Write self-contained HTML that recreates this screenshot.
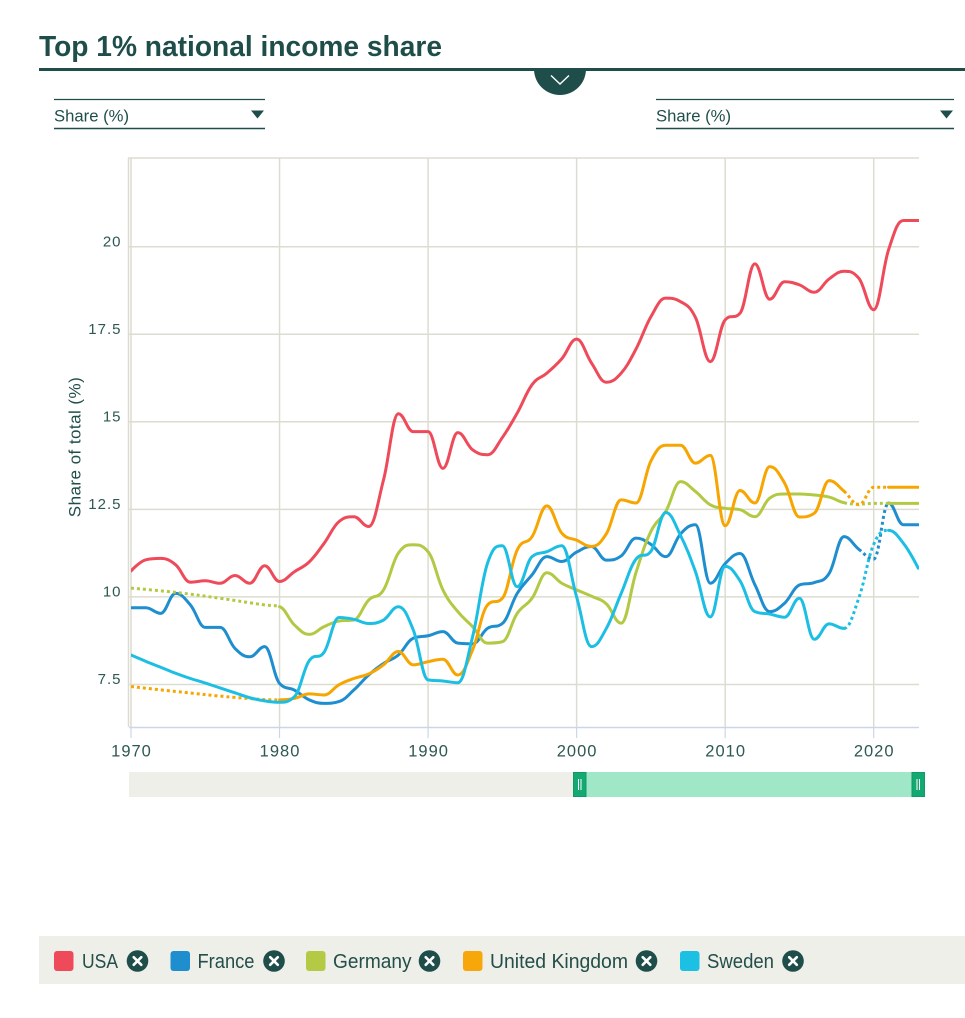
<!DOCTYPE html>
<html>
<head>
<meta charset="utf-8">
<style>
  html,body{margin:0;padding:0;background:#fff;}
  body{width:965px;height:1018px;overflow:hidden;}
  svg{display:block;font-family:"Liberation Sans",Arial,sans-serif;}
</style>
</head>
<body>
<svg id="root" width="965" height="1018" viewBox="0 0 965 1018" xmlns="http://www.w3.org/2000/svg">
  <defs>
    <clipPath id="plotclip"><rect x="131" y="150" width="788" height="585"/></clipPath>
  </defs>
  <!-- Title -->
  <text x="39" y="56" font-size="29" font-weight="700" fill="#1f4e4a" textLength="403" lengthAdjust="spacingAndGlyphs">Top 1% national income share</text>
  <rect x="39" y="68" width="926" height="3" fill="#1f4e4a"/>
  <path d="M534,69 A26,26 0 0 0 586,69 Z" fill="#1f4e4a"/>
  <polyline points="551,75.5 560,84 569,75.5" fill="none" stroke="#ffffff" stroke-width="1.4"/>

  <!-- Dropdowns -->
  <line x1="54" y1="99.5" x2="265" y2="99.5" stroke="#1f4e4a" stroke-width="1.3"/>
  <line x1="54" y1="128.5" x2="265" y2="128.5" stroke="#1f4e4a" stroke-width="1.6"/>
  <text x="54" y="121.5" font-size="17" fill="#1f4e4a" textLength="75" lengthAdjust="spacingAndGlyphs">Share (%)</text>
  <polygon points="251,110.5 264,110.5 257.5,118.5" fill="#1f4e4a"/>

  <line x1="656" y1="99.5" x2="954" y2="99.5" stroke="#1f4e4a" stroke-width="1.3"/>
  <line x1="656" y1="128.5" x2="954" y2="128.5" stroke="#1f4e4a" stroke-width="1.6"/>
  <text x="656" y="121.5" font-size="17" fill="#1f4e4a" textLength="75" lengthAdjust="spacingAndGlyphs">Share (%)</text>
  <polygon points="940,110.5 953,110.5 946.5,118.5" fill="#1f4e4a"/>

  <!-- Grid -->
  <g id="grid" stroke="#dddcd0" stroke-width="1.5" fill="none">
    <line x1="128" y1="158" x2="919" y2="158"/>
    <line x1="128.5" y1="158" x2="128.5" y2="727"/>
  </g>
  <g id="ylabels" font-size="15" fill="#2d5853" text-anchor="end" letter-spacing="1"></g>
  <text transform="translate(80.5,447) rotate(-90)" text-anchor="middle" font-size="17" fill="#1f4e4a" letter-spacing="0.45">Share of total (%)</text>

  <!-- x axis -->
  <line x1="129" y1="727.5" x2="919" y2="727.5" stroke="#ccd6eb" stroke-width="1.5"/>
  <g id="xaxis"></g>

  <!-- Series -->
  <g id="series" clip-path="url(#plotclip)" fill="none" stroke-width="3"></g>

  <!-- Navigator -->
  <rect x="129" y="772" width="790" height="25" fill="#efefea"/>
  <rect x="580" y="772" width="339" height="25" fill="#9fe7c7"/>
  <rect x="573.5" y="772.5" width="12.5" height="24" fill="#14a873" stroke="#0f9a66" stroke-width="1"/>
  <line x1="578.5" y1="779" x2="578.5" y2="790" stroke="#ffffff" stroke-width="1"/>
  <line x1="581" y1="779" x2="581" y2="790" stroke="#ffffff" stroke-width="1"/>
  <rect x="912" y="772.5" width="12.5" height="24" fill="#14a873" stroke="#0f9a66" stroke-width="1"/>
  <line x1="917" y1="779" x2="917" y2="790" stroke="#ffffff" stroke-width="1"/>
  <line x1="919.5" y1="779" x2="919.5" y2="790" stroke="#ffffff" stroke-width="1"/>

  <!-- Legend -->
  <rect x="39" y="936" width="926" height="48" fill="#efefe9"/>
  <g font-size="20" fill="#234e49">
    <rect x="54" y="951" width="19.5" height="20" rx="3" fill="#ef4a5a"/>
    <text x="82" y="968" textLength="36" lengthAdjust="spacingAndGlyphs">USA</text>
    <rect x="170.5" y="951" width="19.5" height="20" rx="3" fill="#1e8ecf"/>
    <text x="197.5" y="968" textLength="57" lengthAdjust="spacingAndGlyphs">France</text>
    <rect x="306" y="951" width="19.5" height="20" rx="3" fill="#b4ca45"/>
    <text x="333" y="968" textLength="78.5" lengthAdjust="spacingAndGlyphs">Germany</text>
    <rect x="463" y="951" width="19.5" height="20" rx="3" fill="#f7a709"/>
    <text x="490" y="968" textLength="138" lengthAdjust="spacingAndGlyphs">United Kingdom</text>
    <rect x="680" y="951" width="19.5" height="20" rx="3" fill="#1cc0e3"/>
    <text x="707" y="968" textLength="67" lengthAdjust="spacingAndGlyphs">Sweden</text>
  </g>
  <g id="closers"></g>
</svg>
<script>
(function(){
  var NS="http://www.w3.org/2000/svg";
  function el(tag,attrs,parent,text){
    var e=document.createElementNS(NS,tag);
    for(var k in attrs) e.setAttribute(k,attrs[k]);
    if(text!==undefined) e.textContent=text;
    parent.appendChild(e); return e;
  }
  var X=function(yr){return 131+(yr-1970)*14.854;};
  var Y=function(v){return 246.7+(20-v)*35.02;};

  // grid
  var grid=document.getElementById('grid');
  var yl=document.getElementById('ylabels');
  var yv=[7.5,10,12.5,15,17.5,20];
  yv.forEach(function(v){
    var y=Y(v);
    el('line',{x1:128,y1:y,x2:919,y2:y},grid);
    el('text',{x:121.5,y:y-0.3},yl,String(v));
  });
  var xa=document.getElementById('xaxis');
  for(var yr=1970;yr<=2020;yr+=10){
    var x=X(yr);
    el('line',{x1:x,y1:158,x2:x,y2:727},grid);
    el('line',{x1:x,y1:728,x2:x,y2:738,stroke:'#ccd6eb','stroke-width':1.2},xa);
    el('text',{x:x+0.5,y:756.5,'font-size':16.5,'letter-spacing':1,fill:'#2d5853','text-anchor':'middle'},xa,String(yr));
  }

  var series=[
    {c:'#ef4a5a',dot:[],d:[[1970,10.74],[1971,11.06],[1972,11.1],[1973,10.92],[1974,10.42],[1975,10.46],[1976,10.39],[1977,10.61],[1978,10.39],[1979,10.89],[1980,10.44],[1981,10.72],[1982,11.0],[1983,11.53],[1984,12.15],[1985,12.29],[1986,12.01],[1987,13.34],[1988,15.23],[1989,14.72],[1990,14.72],[1991,13.67],[1992,14.69],[1993,14.2],[1994,14.06],[1995,14.55],[1996,15.25],[1997,16.06],[1998,16.39],[1999,16.8],[2000,17.36],[2001,16.68],[2002,16.13],[2003,16.39],[2004,17.08],[2005,18.0],[2006,18.53],[2007,18.43],[2008,17.98],[2009,16.72],[2010,17.91],[2011,18.1],[2012,19.51],[2013,18.5],[2014,19.0],[2015,18.91],[2016,18.7],[2017,19.08],[2018,19.3],[2019,19.1],[2020,18.2],[2021,19.91],[2022,20.75],[2023,20.75]]},
    {c:'#1e8ecf',dot:[[2019,2021]],d:[[1970,9.69],[1971,9.69],[1972,9.53],[1973,10.1],[1974,9.77],[1975,9.13],[1976,9.13],[1977,8.53],[1978,8.29],[1979,8.58],[1980,7.53],[1981,7.34],[1982,7.06],[1983,6.96],[1984,7.01],[1985,7.34],[1986,7.77],[1987,8.1],[1988,8.34],[1989,8.82],[1990,8.89],[1991,9.01],[1992,8.68],[1993,8.66],[1994,9.1],[1995,9.24],[1996,10.1],[1997,10.63],[1998,11.15],[1999,11.01],[2000,11.28],[2001,11.44],[2002,11.05],[2003,11.17],[2004,11.68],[2005,11.5],[2006,11.15],[2007,11.8],[2008,12.06],[2009,10.39],[2010,10.95],[2011,11.24],[2012,10.35],[2013,9.58],[2014,9.82],[2015,10.34],[2016,10.41],[2017,10.67],[2018,11.72],[2019,11.36],[2020,11.08],[2021,12.68],[2022,12.06],[2023,12.06]]},
    {c:'#b2c944',dot:[[1970,1980],[2018,2021]],d:[[1970,10.25],[1973,10.13],[1976,9.96],[1979,9.77],[1980,9.72],[1981,9.2],[1982,8.93],[1983,9.15],[1984,9.31],[1985,9.34],[1986,9.91],[1987,10.2],[1988,11.25],[1989,11.49],[1990,11.29],[1991,10.2],[1992,9.58],[1993,9.15],[1994,8.68],[1995,8.72],[1996,9.53],[1997,9.96],[1998,10.69],[1999,10.39],[2000,10.2],[2001,10.02],[2002,9.8],[2003,9.25],[2004,10.7],[2005,11.87],[2006,12.44],[2007,13.29],[2008,13.01],[2009,12.63],[2010,12.53],[2011,12.49],[2012,12.29],[2013,12.82],[2014,12.94],[2015,12.94],[2016,12.91],[2017,12.85],[2018,12.69],[2019,12.65],[2020,12.67],[2021,12.67],[2022,12.67],[2023,12.67]]},
    {c:'#f7a500',dot:[[1970,1980],[2018,2021]],d:[[1970,7.44],[1973,7.3],[1977,7.13],[1980,7.06],[1981,7.1],[1982,7.23],[1983,7.2],[1984,7.49],[1985,7.67],[1986,7.8],[1987,8.06],[1988,8.44],[1989,8.06],[1990,8.15],[1991,8.22],[1992,7.77],[1993,8.49],[1994,9.77],[1995,9.96],[1996,11.34],[1997,11.72],[1998,12.6],[1999,11.82],[2000,11.62],[2001,11.44],[2002,11.8],[2003,12.77],[2004,12.68],[2005,13.88],[2006,14.33],[2007,14.33],[2008,13.82],[2009,14.04],[2010,12.03],[2011,13.04],[2012,12.68],[2013,13.72],[2014,13.25],[2015,12.28],[2016,12.39],[2017,13.32],[2018,13.02],[2019,12.63],[2020,13.13],[2021,13.13],[2022,13.13],[2023,13.13]]},
    {c:'#1cbfe3',dot:[[2018,2021]],d:[[1970,8.34],[1971,8.16],[1972,7.99],[1973,7.82],[1974,7.67],[1975,7.54],[1976,7.4],[1977,7.26],[1978,7.12],[1979,7.03],[1980,6.99],[1981,7.15],[1982,8.18],[1983,8.42],[1984,9.41],[1985,9.36],[1986,9.24],[1987,9.34],[1988,9.72],[1989,9.06],[1990,7.63],[1991,7.6],[1992,7.55],[1993,8.87],[1994,10.96],[1995,11.46],[1996,10.29],[1997,11.15],[1998,11.29],[1999,11.46],[2000,10.0],[2001,8.58],[2002,9.1],[2003,10.1],[2004,11.08],[2005,11.3],[2006,12.41],[2007,11.75],[2008,10.72],[2009,9.43],[2010,10.87],[2011,10.46],[2012,9.58],[2013,9.51],[2014,9.42],[2015,9.96],[2016,8.79],[2017,9.23],[2018,9.1],[2019,9.97],[2020,11.5],[2021,11.9],[2022,11.53],[2023,10.82]]}
  ];

  var sg=document.getElementById('series');
  series.forEach(function(s){
    var P=s.d.map(function(p){return [X(p[0]),Y(p[1])];});
    var n=P.length, lc=[], rc=[];
    for(var i=0;i<n;i++){
      var px=P[i][0], py=P[i][1];
      if(i>0&&i<n-1){
        var lx=P[i-1][0], ly=P[i-1][1], nx=P[i+1][0], ny=P[i+1][1];
        var sm=1.5, den=2.5;
        var lcx=(sm*px+lx)/den, lcy=(sm*py+ly)/den, rcx=(sm*px+nx)/den, rcy=(sm*py+ny)/den;
        var corr=0;
        if(rcx!==lcx) corr=((rcy-lcy)*(rcx-px))/(rcx-lcx)+py-rcy;
        lcy+=corr; rcy+=corr;
        if(lcy>ly&&lcy>py){lcy=Math.max(ly,py);rcy=2*py-lcy;}
        else if(lcy<ly&&lcy<py){lcy=Math.min(ly,py);rcy=2*py-lcy;}
        if(rcy>ny&&rcy>py){rcy=Math.max(ny,py);lcy=2*py-rcy;}
        else if(rcy<ny&&rcy<py){rcy=Math.min(ny,py);lcy=2*py-rcy;}
        lc[i]=[lcx,lcy]; rc[i]=[rcx,rcy];
      } else { lc[i]=[px,py]; rc[i]=[px,py]; }
    }
    var solid='', dotted='', prev=null;
    for(var j=0;j<n-1;j++){
      var y0=s.d[j][0];
      var isDot=s.dot.some(function(r){return y0>=r[0]&&y0<r[1];});
      var f=function(a){return a[0].toFixed(2)+','+a[1].toFixed(2);};
      var c='C'+f(rc[j])+' '+f(lc[j+1])+' '+f(P[j+1]);
      if(isDot){
        dotted+=(prev==='d'?'':'M'+f(P[j]))+c; prev='d';
      } else {
        solid+=(prev==='s'?'':'M'+f(P[j]))+c; prev='s';
      }
    }
    if(solid) el('path',{d:solid,stroke:s.c,'stroke-width':3,'stroke-linejoin':'round','stroke-linecap':'round',fill:'none'},sg);
    if(dotted) el('path',{d:dotted,stroke:s.c,'stroke-width':3,'stroke-dasharray':'3 3','stroke-linecap':'butt',fill:'none'},sg);
  });

  // legend close icons
  var cl=document.getElementById('closers');
  [137.5,274,429.5,646.5,793].forEach(function(cx){
    var cy=961;
    el('circle',{cx:cx,cy:cy,r:10.8,fill:'#1f4e4a'},cl);
    el('line',{x1:cx-3.8,y1:cy-3.8,x2:cx+3.8,y2:cy+3.8,stroke:'#ffffff','stroke-width':2.6,'stroke-linecap':'round'},cl);
    el('line',{x1:cx+3.8,y1:cy-3.8,x2:cx-3.8,y2:cy+3.8,stroke:'#ffffff','stroke-width':2.6,'stroke-linecap':'round'},cl);
  });
})();
</script>
</body>
</html>
